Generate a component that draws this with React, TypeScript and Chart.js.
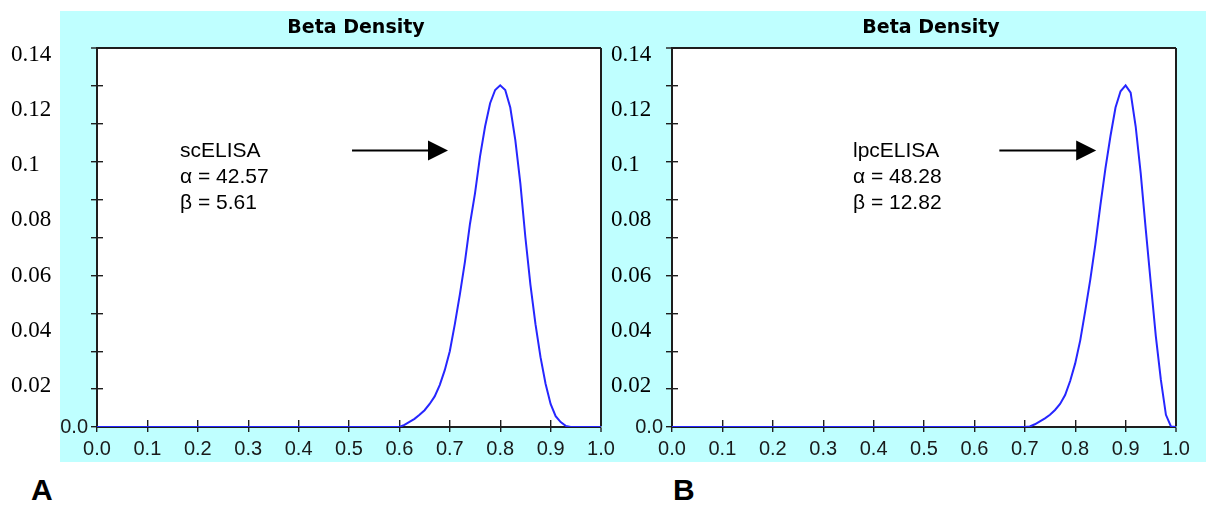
import React, { useEffect, useRef } from 'react';
import { Chart, registerables } from 'chart.js';

Chart.register(...registerables);

// ---------- data ----------
const X_TICK_LABELS = ['0.0', '0.1', '0.2', '0.3', '0.4', '0.5', '0.6', '0.7', '0.8', '0.9', '1.0'];
const Y_ZERO_LABEL = '0.0';
const Y_LABEL_VALUES = [0.02, 0.04, 0.06, 0.08, 0.1, 0.12, 0.14];
const Y_LABEL_TEXT = ['0.02', '0.04', '0.06', '0.08', '0.1', '0.12', '0.14'];

const X_A = [0, 0.6, 0.61, 0.62, 0.63, 0.64, 0.65, 0.66, 0.67, 0.68, 0.69, 0.7, 0.71, 0.72, 0.73, 0.74, 0.75, 0.76, 0.77, 0.78, 0.79, 0.8, 0.81, 0.82, 0.83, 0.84, 0.85, 0.86, 0.87, 0.88, 0.89, 0.9, 0.91, 0.92, 0.93, 0.94, 1.0];
const Y_A = [0, 0, 0.0008, 0.0019, 0.003, 0.0045, 0.0062, 0.0085, 0.0113, 0.0155, 0.021, 0.028, 0.038, 0.049, 0.061, 0.075, 0.0863, 0.1, 0.111, 0.1196, 0.1245, 0.1262, 0.1245, 0.118, 0.106, 0.09, 0.07, 0.0525, 0.038, 0.0258, 0.016, 0.0085, 0.004, 0.0018, 0.0004, 0, 0];

const X_B = [0, 0.7, 0.71, 0.72, 0.73, 0.74, 0.75, 0.76, 0.77, 0.78, 0.79, 0.8, 0.81, 0.82, 0.83, 0.84, 0.85, 0.86, 0.87, 0.88, 0.89, 0.9, 0.91, 0.92, 0.93, 0.94, 0.95, 0.96, 0.97, 0.98, 0.99, 1.0];
const Y_B = [0, 0, 0.0002, 0.001, 0.0021, 0.0032, 0.0045, 0.0063, 0.0085, 0.0118, 0.017, 0.0235, 0.032, 0.043, 0.0545, 0.0675, 0.082, 0.0955, 0.1075, 0.118, 0.124, 0.1262, 0.1235, 0.111, 0.0937, 0.073, 0.0531, 0.0335, 0.0174, 0.0045, 0.0002, 0];

const NOTE_A = ['scELISA', 'α = 42.57', 'β = 5.61'];
const NOTE_B = ['lpcELISA', 'α = 48.28', 'β = 12.82'];

// ---------- style ----------
const CYAN = '#bfffff';
const AXIS = '#1e1e1e';
const CURVE = '#2626ff';
const SANS = "'Liberation Sans', Arial, sans-serif";
const SERIF = "'Liberation Serif', 'Times New Roman', serif";
const Y_MAX = 0.14;
const LABEL_AXIS_MIN = 0.0049;
const LABEL_AXIS_MAX = 0.1427;

const plotBg = {
  id: 'plotBg',
  beforeDraw(chart: any) {
    const { ctx, chartArea: a } = chart;
    ctx.save();
    ctx.fillStyle = '#ffffff';
    ctx.fillRect(a.left, a.top, a.width, a.height);
    ctx.restore();
  },
};

const arrowMark = {
  id: 'arrowMark',
  afterDatasetsDraw(chart: any, _args: any, opts: any) {
    if (!opts || opts.x1 === undefined) return;
    const { ctx, scales } = chart;
    const x1 = scales.x.getPixelForValue(opts.x1);
    const x2 = scales.x.getPixelForValue(opts.x2);
    const y = scales.y.getPixelForValue(opts.y);
    const head = 20;
    ctx.save();
    ctx.strokeStyle = '#000';
    ctx.fillStyle = '#000';
    ctx.lineWidth = 2;
    ctx.beginPath();
    ctx.moveTo(x1, y);
    ctx.lineTo(x2 - head + 2, y);
    ctx.stroke();
    ctx.beginPath();
    ctx.moveTo(x2, y);
    ctx.lineTo(x2 - head, y - 10);
    ctx.lineTo(x2 - head, y + 10);
    ctx.closePath();
    ctx.fill();
    ctx.restore();
  },
};

function buildChart(canvas: HTMLCanvasElement, xs: number[], ys: number[], labelPad: number, arrow: any) {
  const pts = xs.map((x, i) => ({ x, y: ys[i] }));
  const lastX = X_TICK_LABELS.length - 1;
  return new Chart(canvas, {
    type: 'line',
    data: {
      datasets: [
        {
          data: pts,
          borderColor: CURVE,
          borderWidth: 2,
          pointRadius: 0,
          tension: 0,
          fill: false,
          xAxisID: 'x',
          yAxisID: 'y',
        },
      ],
    },
    options: {
      animation: false,
      responsive: false,
      maintainAspectRatio: false,
      layout: { padding: 0 },
      plugins: {
        legend: { display: false },
        tooltip: { enabled: false },
        title: {
          display: true,
          text: 'Beta Density',
          color: '#000',
          font: { family: "'DejaVu Sans', sans-serif", size: 19, weight: 'bold', lineHeight: 1.2 },
          padding: { top: 16.6, bottom: 8.6 },
        },
        arrowMark: arrow,
      } as any,
      scales: {
        x: {
          type: 'linear',
          position: 'bottom',
          min: 0,
          max: 1,
          afterBuildTicks: (s: any) => {
            s.ticks = X_TICK_LABELS.map((t) => ({ value: Number(t) }));
          },
          ticks: {
            callback: (_v: any, i: number) => X_TICK_LABELS[i],
            color: '#1a1a1a',
            font: { family: SANS, size: 20 },
            padding: 5,
            maxRotation: 0,
            autoSkip: false,
          },
          grid: {
            color: AXIS,
            lineWidth: (c: any) => (c.index === lastX ? 2 : 1.4),
            tickColor: AXIS,
            tickWidth: 1.4,
            tickLength: 5,
            drawOnChartArea: true,
          },
          border: {
            display: true,
            color: AXIS,
            width: 2,
            dash: (c: any) => {
              if (c.index === undefined || c.index === lastX) return [];
              const h = c.chart.chartArea ? c.chart.chartArea.height : 379;
              return [0, h - 7, 7, 3000];
            },
          },
          afterFit: (s: any) => {
            s.height = 43;
          },
        },
        y: {
          type: 'linear',
          position: 'left',
          weight: 0,
          min: 0,
          max: Y_MAX,
          ticks: {
            count: 11,
            callback: (v: any) => (Math.abs(Number(v)) < 1e-9 ? Y_ZERO_LABEL : ''),
            color: '#1a1a1a',
            font: { family: SANS, size: 20 },
            padding: 3,
            autoSkip: false,
          },
          grid: {
            color: AXIS,
            lineWidth: (c: any) => (c.index === 10 ? 2 : 1.4),
            tickColor: AXIS,
            tickWidth: 1.4,
            tickLength: 6,
            drawOnChartArea: true,
          },
          border: {
            display: true,
            color: AXIS,
            width: 2,
            dash: (c: any) => (c.index === undefined || c.index === 10 ? [] : [5, 3000]),
          },
          afterFit: (s: any) => {
            s.width = 87;
          },
        },
        yl: {
          type: 'linear',
          position: 'left',
          weight: 10,
          min: LABEL_AXIS_MIN,
          max: LABEL_AXIS_MAX,
          afterBuildTicks: (s: any) => {
            s.ticks = Y_LABEL_VALUES.map((v) => ({ value: v }));
          },
          ticks: {
            mirror: true,
            crossAlign: 'near',
            callback: (_v: any, i: number) => Y_LABEL_TEXT[i],
            color: '#000',
            font: { family: SERIF, size: 23 },
            padding: labelPad,
            autoSkip: false,
          },
          grid: { display: false, drawTicks: false, drawOnChartArea: false },
          border: { display: false },
          afterFit: (s: any) => {
            s.width = 10;
          },
        },
        pad: {
          type: 'linear',
          position: 'right',
          display: true,
          ticks: { display: false },
          grid: { display: false, drawTicks: false, drawOnChartArea: false },
          border: { display: false },
          afterFit: (s: any) => {
            s.width = 111;
          },
        },
      } as any,
    },
    plugins: [plotBg, arrowMark],
  } as any);
}

const noteStyle = (left: number): React.CSSProperties => ({
  position: 'absolute',
  left,
  top: 137,
  fontFamily: SANS,
  fontSize: 21,
  lineHeight: '26px',
  color: '#000',
  whiteSpace: 'pre',
});

const letterStyle = (left: number): React.CSSProperties => ({
  position: 'absolute',
  left,
  top: 475,
  fontFamily: SANS,
  fontWeight: 'bold',
  fontSize: 30,
  lineHeight: '30px',
  color: '#000',
});

export default function App() {
  const refA = useRef<HTMLCanvasElement>(null);
  const refB = useRef<HTMLCanvasElement>(null);

  useEffect(() => {
    const a = buildChart(refA.current!, X_A, Y_A, 1, { x1: 0.506, x2: 0.6964, y: 0.1021 });
    const b = buildChart(refB.current!, X_B, Y_B, 26, { x1: 0.6495, x2: 0.8416, y: 0.1021 });
    return () => {
      a.destroy();
      b.destroy();
    };
  }, []);

  return (
    <div
      style={{
        position: 'absolute',
        left: 0,
        top: 0,
        width: 1206,
        height: 510,
        overflow: 'hidden',
        background: '#fff',
      }}
    >
      <div style={{ position: 'absolute', left: 60, top: 11, width: 1146, height: 451, background: CYAN }} />
      <canvas
        ref={refA}
        width={712}
        height={470}
        style={{ position: 'absolute', left: 0, top: 0, width: 712, height: 470 }}
      />
      <canvas
        ref={refB}
        width={712}
        height={470}
        style={{ position: 'absolute', left: 575, top: 0, width: 712, height: 470 }}
      />
      <div style={noteStyle(180)}>
        {NOTE_A.map((t) => (
          <div key={t}>{t}</div>
        ))}
      </div>
      <div style={noteStyle(853)}>
        {NOTE_B.map((t) => (
          <div key={t}>{t}</div>
        ))}
      </div>
      <div style={letterStyle(31)}>A</div>
      <div style={letterStyle(673)}>B</div>
    </div>
  );
}
